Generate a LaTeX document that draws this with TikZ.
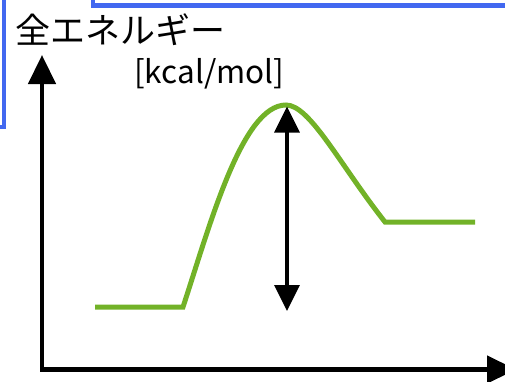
\documentclass[tikz,border=0pt]{standalone}
\usepackage{fontspec}
\setmainfont{Noto Sans CJK JP}
\usetikzlibrary{arrows.meta}
\definecolor{frameblue}{RGB}{66,104,240}
\definecolor{curvegreen}{RGB}{114,178,40}

\begin{document}
\begin{tikzpicture}[
    x=1pt, y=1pt,
    frame/.style={draw=frameblue, line width=4.5pt},
    axis/.style={line width=4.5pt, {Triangle[length=29pt,width=27pt]}-{Triangle[length=29pt,width=27pt]}},
    gap/.style={line width=3.5pt, {Triangle[length=26pt,width=25pt]}-{Triangle[length=26pt,width=25pt]}},
    energy/.style={draw=curvegreen, line width=5pt},
    label/.style={inner sep=0pt, anchor=base west}
]
    \useasboundingbox (0,0) rectangle (505,381);

    % pieces of the surrounding frames
    \draw[frame] (-5,254) -- (4,254) -- (4,390);
    \draw[frame] (93,390) -- (93,375.5) -- (515,375.5);

    % axes
    \coordinate (ytip) at (42,326);
    \coordinate (xtip) at (516,11.5);
    \draw[axis] (ytip) |- (xtip);

    \node[label, font=\fontsize{35}{40}\selectfont] (title) at (15,337) {全エネルギー};
    \node[label, font=\fontsize{31.5}{36}\selectfont] (unit) at (134,298) {[kcal/mol]};

    % reaction profile
    \coordinate (peak) at (286,276);
    \coordinate (start) at (183,74);
    \coordinate (finish) at (385,159);
    \draw[energy] (95,74) -- (start)
        .. controls (210,156) and (242,276) .. (peak)
        .. controls (310,276) and (340,216) .. (finish) -- (475,159);

    % activation energy
    \coordinate (top) at (287,274.5);
    \coordinate (bottom) at (287,70);
    \draw[gap] (top) -- (bottom);
\end{tikzpicture}
\end{document}
